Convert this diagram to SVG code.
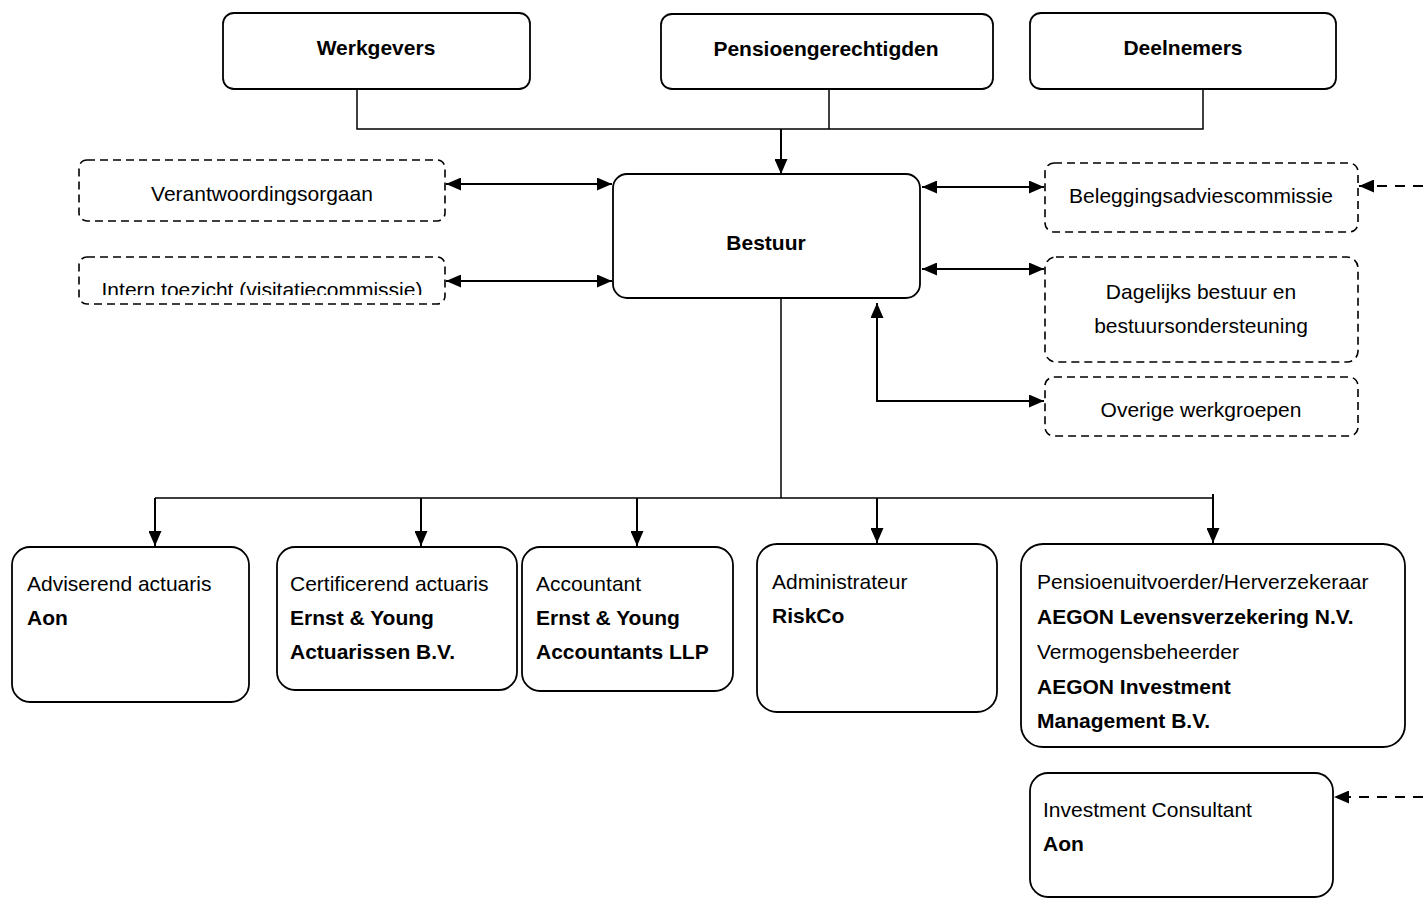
<svg xmlns="http://www.w3.org/2000/svg" width="1423" height="899" viewBox="0 0 1423 899">
<style>
.box{fill:#fff;stroke:#000;stroke-width:1.8}
.dbox{fill:#fff;stroke:#000;stroke-width:1.6;stroke-dasharray:8 5}
.t{font-family:"Liberation Sans",Arial,sans-serif;font-size:21px;fill:#000}
.b{font-weight:bold}
.c{text-anchor:middle}
.ln{fill:none;stroke:#000;stroke-width:2}
.ln1{fill:none;stroke:#000;stroke-width:1.5}
.dl{fill:none;stroke:#000;stroke-width:2;stroke-dasharray:10 8}
</style>
<defs>
<marker id="ah" viewBox="0 0 15 13" refX="15" refY="6.5" markerWidth="15" markerHeight="13" markerUnits="userSpaceOnUse" orient="auto-start-reverse">
<path d="M0,0 L15,6.5 L0,13 z" fill="#000"/>
</marker>
<clipPath id="clipIntern"><rect x="79" y="257" width="367" height="38"/></clipPath>
</defs>
<rect width="1423" height="899" fill="#fff"/>
<g id="connectors">
<polyline class="ln1" points="357,89 357,129 1203,129 1203,89"/>
<line class="ln1" x1="829" y1="89" x2="829" y2="129"/>
<line class="ln" x1="781" y1="129" x2="781" y2="174" marker-end="url(#ah)"/>
<line class="ln" x1="446" y1="184" x2="612" y2="184" marker-start="url(#ah)" marker-end="url(#ah)"/>
<line class="ln" x1="446" y1="281" x2="612" y2="281" marker-start="url(#ah)" marker-end="url(#ah)"/>
<line class="ln" x1="922" y1="187" x2="1044" y2="187" marker-start="url(#ah)" marker-end="url(#ah)"/>
<line class="ln" x1="922" y1="269" x2="1044" y2="269" marker-start="url(#ah)" marker-end="url(#ah)"/>
<path class="ln" d="M877,303 L877,401 L1044,401" marker-start="url(#ah)" marker-end="url(#ah)"/>
<line class="dl" x1="1423" y1="186" x2="1359" y2="186" marker-end="url(#ah)"/>
<line class="dl" x1="1423" y1="797" x2="1334" y2="797" marker-end="url(#ah)"/>
<line class="ln1" x1="781" y1="298" x2="781" y2="498"/>
<polyline class="ln1" points="155,498 1213,498 1213,494"/>
<line class="ln" x1="155" y1="498" x2="155" y2="546" marker-end="url(#ah)"/>
<line class="ln" x1="421" y1="498" x2="421" y2="546" marker-end="url(#ah)"/>
<line class="ln" x1="637" y1="498" x2="637" y2="546" marker-end="url(#ah)"/>
<line class="ln" x1="877" y1="498" x2="877" y2="543" marker-end="url(#ah)"/>
<line class="ln" x1="1213" y1="494" x2="1213" y2="543" marker-end="url(#ah)"/>
</g>
<g id="werkgevers">
<rect class="box" x="223" y="13" width="307" height="76" rx="11"/>
<text class="t b c" x="376" y="55">Werkgevers</text>
</g>
<g id="pensioengerechtigden">
<rect class="box" x="661" y="14" width="332" height="75" rx="11"/>
<text class="t b c" x="826" y="56">Pensioengerechtigden</text>
</g>
<g id="deelnemers">
<rect class="box" x="1030" y="13" width="306" height="76" rx="11"/>
<text class="t b c" x="1183" y="55">Deelnemers</text>
</g>
<g id="bestuur">
<rect class="box" x="613" y="174" width="307" height="124" rx="14"/>
<text class="t b c" x="766" y="250">Bestuur</text>
</g>
<g id="verantwoordingsorgaan">
<rect class="dbox" x="79" y="160" width="366" height="61" rx="8"/>
<text class="t c" x="262" y="201">Verantwoordingsorgaan</text>
</g>
<g id="intern-toezicht">
<rect class="dbox" x="79" y="257" width="366" height="47" rx="8"/>
<text class="t c" x="262" y="297" clip-path="url(#clipIntern)">Intern toezicht (visitatiecommissie)</text>
</g>
<g id="beleggingsadviescommissie">
<rect class="dbox" x="1045" y="163" width="313" height="69" rx="9"/>
<text class="t c" x="1201" y="203">Beleggingsadviescommissie</text>
</g>
<g id="dagelijks-bestuur">
<rect class="dbox" x="1045" y="257" width="313" height="105" rx="11"/>
<text class="t c" x="1201" y="299">Dagelijks bestuur en</text>
<text class="t c" x="1201" y="333">bestuursondersteuning</text>
</g>
<g id="overige-werkgroepen">
<rect class="dbox" x="1045" y="377" width="313" height="59" rx="9"/>
<text class="t c" x="1201" y="417">Overige werkgroepen</text>
</g>
<g id="adviserend-actuaris">
<rect class="box" x="12" y="547" width="237" height="155" rx="18"/>
<text class="t" x="27" y="591">Adviserend actuaris</text>
<text class="t b" x="27" y="625">Aon</text>
</g>
<g id="certificerend-actuaris">
<rect class="box" x="277" y="547" width="240" height="143" rx="18"/>
<text class="t" x="290" y="591">Certificerend actuaris</text>
<text class="t b" x="290" y="625">Ernst &amp; Young</text>
<text class="t b" x="290" y="659">Actuarissen B.V.</text>
</g>
<g id="accountant">
<rect class="box" x="522" y="547" width="211" height="144" rx="18"/>
<text class="t" x="536" y="591">Accountant</text>
<text class="t b" x="536" y="625">Ernst &amp; Young</text>
<text class="t b" x="536" y="659">Accountants LLP</text>
</g>
<g id="administrateur">
<rect class="box" x="757" y="544" width="240" height="168" rx="20"/>
<text class="t" x="772" y="589">Administrateur</text>
<text class="t b" x="772" y="623">RiskCo</text>
</g>
<g id="pensioenuitvoerder">
<rect class="box" x="1021" y="544" width="384" height="203" rx="22"/>
<text class="t" x="1037" y="589">Pensioenuitvoerder/Herverzekeraar</text>
<text class="t b" x="1037" y="624">AEGON Levensverzekering N.V.</text>
<text class="t" x="1037" y="659">Vermogensbeheerder</text>
<text class="t b" x="1037" y="694">AEGON Investment</text>
<text class="t b" x="1037" y="728">Management B.V.</text>
</g>
<g id="investment-consultant">
<rect class="box" x="1030" y="773" width="303" height="124" rx="18"/>
<text class="t" x="1043" y="817">Investment Consultant</text>
<text class="t b" x="1043" y="851">Aon</text>
</g>
</svg>
